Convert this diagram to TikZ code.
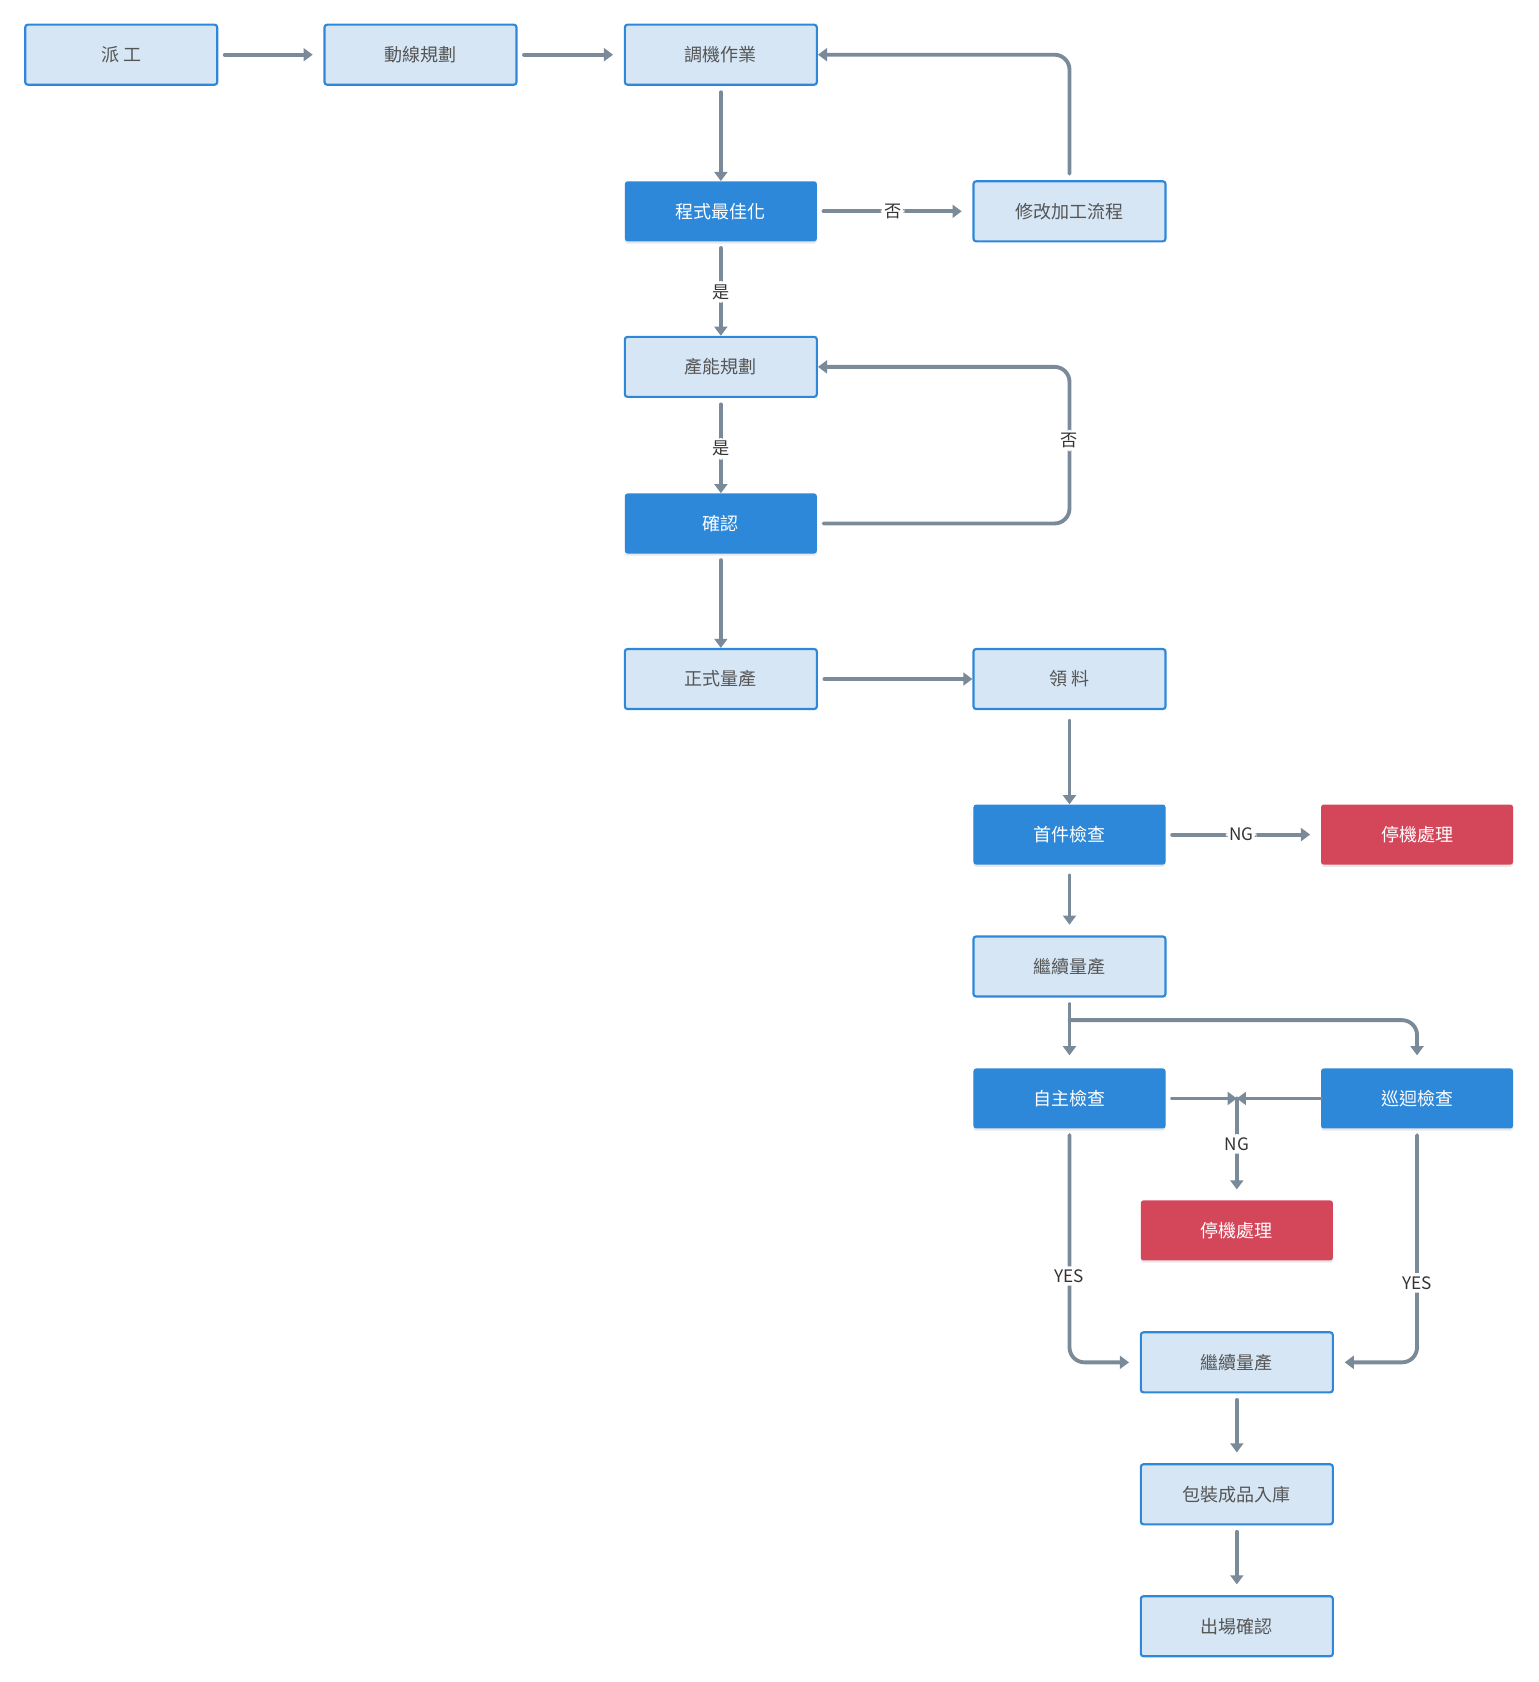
\documentclass[tikz,border=0pt]{standalone}
\usepackage{fontspec}
\setmainfont{Noto Sans CJK TC}
\usetikzlibrary{arrows.meta,shadows,calc}
\definecolor{lightfill}{HTML}{D6E6F5}
\definecolor{bluebrd}{HTML}{2D88D9}
\definecolor{darkfill}{HTML}{2D88D9}
\definecolor{redfill}{HTML}{D4465A}
\definecolor{edgecol}{HTML}{7A8A99}
\definecolor{txtcol}{HTML}{555555}
\definecolor{lblcol}{HTML}{333333}
\tikzset{
  base/.style={rectangle, minimum width=179pt, minimum height=56pt, rounded corners=2.5pt, font=\fontsize{16.8}{18}\selectfont, inner sep=0pt},
  lightbox/.style={base, fill=lightfill, draw=bluebrd, line width=2pt, text=txtcol},
  darkbox/.style={base, fill=darkfill, text=white, drop shadow={opacity=0.18, shadow xshift=0pt, shadow yshift=-2pt}},
  redbox/.style={base, fill=redfill, text=white, drop shadow={opacity=0.18, shadow xshift=0pt, shadow yshift=-2pt}},
  conn/.style={draw=edgecol, line width=3.6pt, line cap=round, -{Triangle[length=8.5pt,width=12pt]}, rounded corners=14pt},
  lbl/.style={fill=white, inner xsep=3pt, inner ysep=3pt, text=lblcol, font=\fontsize{16}{17}\selectfont},
}
\begin{document}
\begin{tikzpicture}[x=1pt,y=1pt]
\useasboundingbox (0,0) rectangle (1434,-1568);
\node[lightbox] (n1) at (113,-51) {派 工};
\node[lightbox] (n2) at (392,-51) {動線規劃};
\node[lightbox] (n3) at (672,-51) {調機作業};
\node[darkbox]  (n4) at (672,-197) {程式最佳化};
\node[lightbox] (n5) at (997,-197) {修改加工流程};
\node[lightbox] (n6) at (672,-342) {產能規劃};
\node[darkbox]  (n7) at (672,-488) {確認};
\node[lightbox] (n8) at (672,-633) {正式量產};
\node[lightbox] (n9) at (997,-633) {領 料};
\node[darkbox]  (n10) at (997,-778) {首件檢查};
\node[redbox]   (n11) at (1321,-778) {停機處理};
\node[lightbox] (n12) at (997,-901) {繼續量產};
\node[darkbox]  (n13) at (997,-1024) {自主檢查};
\node[darkbox]  (n14) at (1321,-1024) {巡迴檢查};
\node[redbox]   (n15) at (1153,-1147) {停機處理};
\node[lightbox] (n16) at (1153,-1270) {繼續量產};
\node[lightbox] (n17) at (1153,-1393) {包裝成品入庫};
\node[lightbox] (n18) at (1153,-1516) {出場確認};
\coordinate (jn) at (1153,-1024);
\coordinate (br) at (997,-951);

\draw[conn] ($(n1.east)+(6,0)$) -- ($(n2.west)+(-10,0)$);
\draw[conn] ($(n2.east)+(6,0)$) -- ($(n3.west)+(-10,0)$);
\draw[conn] ($(n3.south)+(0,-6)$) -- (n4.north);
\draw[conn] ($(n4.east)+(6,0)$) -- node[lbl]{否} ($(n5.west)+(-10,0)$);
\draw[conn] ($(n5.north)+(0,6)$) -- (n5.north |- n3.east) -- (n3.east);
\draw[conn] ($(n4.south)+(0,-6)$) -- node[lbl]{是} (n6.north);
\draw[conn] ($(n6.south)+(0,-6)$) -- node[lbl]{是} (n7.north);
\draw[conn] ($(n7.east)+(6,0)$) -- (n7.east -| n9.center) -- node[lbl, pos=0.53]{否} (n6.east -| n9.center) -- (n6.east);
\draw[conn] ($(n7.south)+(0,-6)$) -- (n8.north);
\draw[conn] ($(n8.east)+(6,0)$) -- (n9.west);
\draw[conn] ($(n9.south)+(0,-10)$) -- (n10.north);
\draw[conn] ($(n10.east)+(6,0)$) -- node[lbl]{NG} ($(n11.west)+(-10,0)$);
\draw[conn] ($(n10.south)+(0,-10)$) -- ($(n12.north)+(0,10)$);
\draw[conn] ($(n12.south)+(0,-6)$) -- ($(n13.north)+(0,12)$);
\draw[conn] (br) -- (br -| n14.north) -- ($(n14.north)+(0,12)$);
\draw[conn] ($(n13.east)+(6,0)$) -- (jn);
\draw[conn] (n14.west) -- (jn);
\draw[conn] (jn) -- node[lbl, pos=0.5]{NG} ($(n15.north)+(0,10)$);
\draw[conn] ($(n13.south)+(0,-6)$) -- node[lbl, pos=0.62]{YES} (n13.south |- n16.west) -- ($(n16.west)+(-10,0)$);
\draw[conn] ($(n14.south)+(0,-6)$) -- node[lbl, pos=0.65]{YES} (n14.south |- n16.east) -- ($(n16.east)+(10,0)$);
\draw[conn] ($(n16.south)+(0,-6)$) -- ($(n17.north)+(0,10)$);
\draw[conn] ($(n17.south)+(0,-6)$) -- ($(n18.north)+(0,10)$);
\end{tikzpicture}
\end{document}
